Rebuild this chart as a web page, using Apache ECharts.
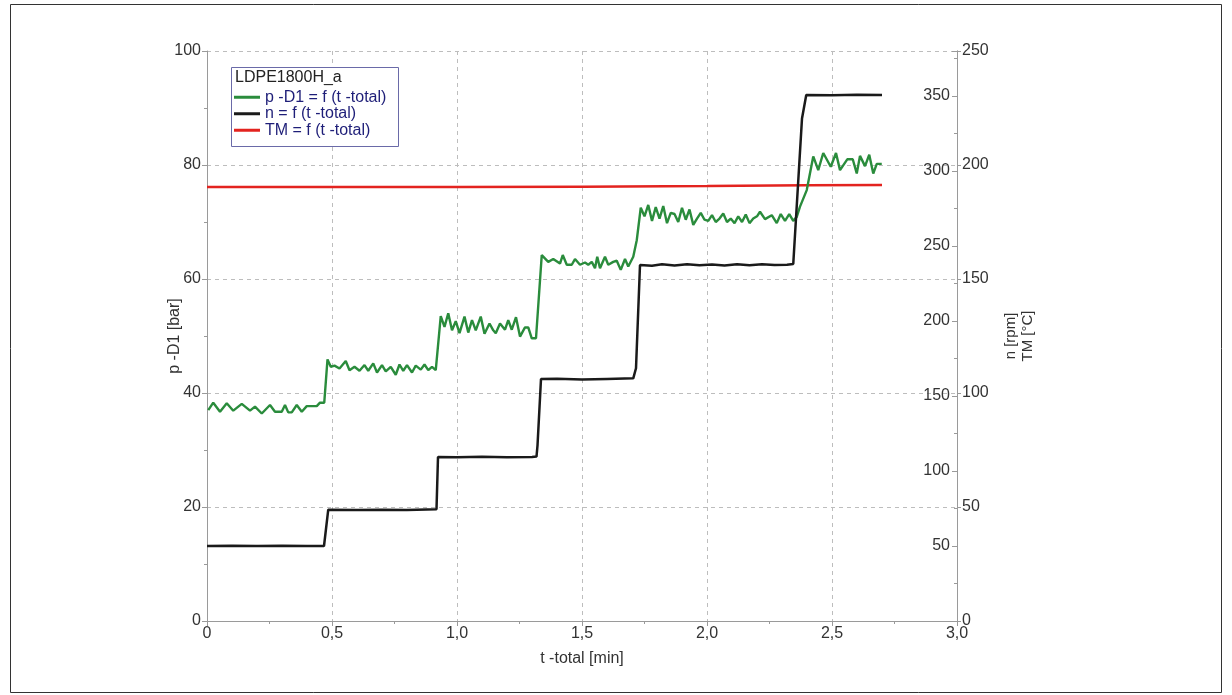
<!DOCTYPE html>
<html>
<head>
<meta charset="utf-8">
<script src="https://cdn.jsdelivr.net/npm/echarts@6/dist/echarts.min.js"></script>
<style>
html,body{margin:0;padding:0;background:#fff;}
#chart{width:1232px;height:695px;}
</style>
</head>
<body>
<div id="chart"></div>
<script>
// ---- data ----
const legendTitle = 'LDPE1800H_a';
const seriesNames = ['p -D1 = f (t -total)', 'n = f (t -total)', 'TM = f (t -total)'];
const xTicks = ['0', '0,5', '1,0', '1,5', '2,0', '2,5', '3,0'];

const pTime = [0.005,0.025,0.052,0.079,0.105,0.139,0.172,0.192,0.219,0.252,0.272,0.299,0.312,0.325,0.339,0.359,0.379,0.399,0.439,0.452,0.469,
  0.482,0.495,0.51,0.53,0.555,0.57,0.59,0.61,0.63,0.645,0.665,0.68,0.7,0.715,0.735,0.755,0.77,0.785,0.8,0.82,0.835,0.855,0.87,0.885,0.9,0.915,
  0.935,0.95,0.965,0.98,0.995,1.01,1.03,1.045,1.06,1.075,1.095,1.11,1.13,1.145,1.155,1.172,1.192,1.205,1.219,1.236,1.252,1.272,1.285,1.299,1.316,
  1.339,1.365,1.385,1.412,1.423,1.439,1.459,1.472,1.492,1.512,1.525,1.539,1.552,1.561,1.572,1.592,1.605,1.625,1.639,1.655,1.672,1.685,1.705,
  1.719,1.735,1.75,1.765,1.78,1.795,1.81,1.825,1.84,1.855,1.87,1.885,1.9,1.915,1.93,1.945,1.96,1.975,1.99,2.005,2.02,2.035,2.05,2.065,2.08,2.095,
  2.11,2.125,2.14,2.155,2.17,2.185,2.2,2.212,2.232,2.259,2.279,2.295,2.312,2.329,2.345,2.359,2.372,2.399,2.425,2.445,2.465,2.495,2.516,2.532,
  2.561,2.583,2.599,2.612,2.632,2.649,2.665,2.679,2.699];
const pValue = [37.0,38.3,36.7,38.2,36.9,38.1,36.9,37.6,36.4,37.9,36.7,36.7,37.9,36.6,36.6,37.9,36.7,37.7,37.7,38.3,38.3,
  45.9,44.6,44.8,44.3,45.6,44.0,44.6,43.9,44.9,43.9,45.2,43.6,44.9,43.8,44.6,43.2,45.0,43.9,44.9,43.6,44.8,44.1,45.0,44.0,44.6,44.0,
  53.5,51.6,54.0,51.0,52.6,50.5,53.4,50.6,52.8,51.0,53.4,50.4,52.2,51.0,50.5,52.2,51.1,52.8,51.1,53.3,49.9,51.5,51.5,49.6,49.6,
  64.2,63.0,63.5,62.7,64.2,62.5,62.5,63.5,62.5,62.9,62.5,63.0,61.9,63.9,61.9,63.9,62.5,63.0,63.2,61.6,63.5,62.2,63.9,
  66.8,72.5,71.0,73.0,70.2,72.6,70.6,72.8,69.8,71.6,71.4,70.0,72.5,70.4,72.2,69.5,70.6,71.6,70.4,70.2,71.2,70.0,70.6,71.5,70.0,70.6,
  69.8,71.0,70.0,71.3,69.8,70.6,71.0,71.8,70.5,71.2,69.8,71.4,70.2,71.4,70.2,70.9,72.7,75.6,81.5,79.1,82.1,79.7,82.1,79.1,
  81.0,81.0,78.5,81.6,79.8,81.8,78.5,80.2,80.2];

const nTime = [0.0,0.1,0.2,0.3,0.4,0.468,0.474,0.485,0.6,0.7,0.8,0.918,0.924,0.932,1.0,1.1,1.2,1.3,1.318,1.322,1.336,1.4,1.5,1.6,1.705,1.716,1.732,
  1.78,1.82,1.87,1.92,1.97,2.02,2.07,2.12,2.17,2.22,2.27,2.32,2.345,2.38,2.397,2.5,2.6,2.7];
const nValue = [50.0,50.1,50.0,50.1,50.0,50.0,51.0,74.2,74.0,74.1,74.0,74.5,109.3,109.4,109.2,109.5,109.2,109.3,109.6,117.0,161.3,161.5,161.0,161.4,161.8,168.5,237.3,
  236.8,237.8,237.0,237.9,237.2,237.6,237.0,237.8,237.2,237.9,237.3,237.5,238.0,335.0,350.7,350.5,350.8,350.7];

const tmTime = [0.0, 0.5, 1.0, 1.5, 2.0, 2.4, 2.7];
const tmValue = [190.3, 190.3, 190.3, 190.5, 190.8, 191.1, 191.2];

// ---- chart ----
const toPairs = (t, v) => t.map((x, i) => [x, v[i]]);
const chart = echarts.init(document.getElementById('chart'));
const FONT = 'Liberation Sans, Arial, sans-serif';
const AX = '#9a9a9a';
const TXT = '#333';

chart.setOption({
  animation: false,
  backgroundColor: '#fff',
  textStyle: { fontFamily: FONT },
  grid: { left: 207, right: 275, top: 51, bottom: 74, containLabel: false },
  legend: {
    left: 234, top: 89, orient: 'vertical', padding: 0, itemGap: 0, z: 20,
    icon: 'rect', itemWidth: 26, itemHeight: 3,
    textStyle: { color: '#1e1e78', fontSize: 16, lineHeight: 16.5, fontFamily: FONT },
    data: seriesNames
  },
  graphic: [
    { type: 'rect', shape: { x: 10.5, y: 4.5, width: 1211, height: 688 }, style: { fill: 'none', stroke: '#333', lineWidth: 1 }, silent: true },
    { type: 'rect', shape: { x: 231.5, y: 67.5, width: 167, height: 79 }, style: { fill: '#fff', stroke: '#6a6aa8', lineWidth: 1 }, z: 5 },
    { type: 'text', left: 235, top: 70, style: { text: legendTitle, fill: '#222', font: '16px ' + FONT }, z: 6 }
  ],
  xAxis: {
    type: 'value', min: 0, max: 3, interval: 0.5,
    name: 't -total [min]', nameLocation: 'middle', nameGap: 30, nameMoveOverlap: false,
    nameTextStyle: { color: TXT, fontSize: 16 },
    axisLine: { show: true, lineStyle: { color: AX } },
    axisTick: { show: true, length: 5, lineStyle: { color: AX } },
    minorTick: { show: true, splitNumber: 2, length: 3, lineStyle: { color: AX } },
    axisLabel: { color: TXT, fontSize: 16, margin: 5, formatter: (v) => xTicks[Math.round(v / 0.5)] },
    splitLine: { show: true, lineStyle: { color: '#bdbdbd', type: [4, 4] } }
  },
  yAxis: [
    {
      type: 'value', position: 'left', min: 0, max: 100, interval: 20,
      name: 'p -D1 [bar]', nameLocation: 'middle', nameGap: 24, nameMoveOverlap: false,
      nameTextStyle: { color: TXT, fontSize: 16 },
      axisLine: { show: true, lineStyle: { color: AX } },
      axisTick: { show: true, length: 5, lineStyle: { color: AX } },
      minorTick: { show: true, splitNumber: 2, length: 3, lineStyle: { color: AX } },
      axisLabel: { color: TXT, fontSize: 16, margin: 6 },
      splitLine: { show: true, lineStyle: { color: '#bdbdbd', type: [4, 4] } }
    },
    {
      type: 'value', position: 'right', offset: 0, min: 0, max: 380, interval: 50,
      axisLine: { show: true, lineStyle: { color: AX } },
      axisTick: { show: true, inside: true, length: 5, lineStyle: { color: AX } },
      minorTick: { show: true, splitNumber: 2, length: 3, lineStyle: { color: AX } },
      axisLabel: { inside: true, color: TXT, fontSize: 16, margin: 7, showMinLabel: false, showMaxLabel: false },
      splitLine: { show: false }
    },
    {
      type: 'value', position: 'right', offset: 0, min: 0, max: 250, interval: 50,
      name: '{a|n [rpm]}\n{a|TM [°C]}', nameLocation: 'middle', nameGap: 45, nameRotate: 90, nameMoveOverlap: false,
      nameTextStyle: { color: TXT, fontSize: 15, rich: { a: { color: TXT, fontSize: 15, lineHeight: 17, fontFamily: FONT } } },
      axisLine: { show: true, lineStyle: { color: AX } },
      axisTick: { show: true, length: 4, lineStyle: { color: AX } },
      axisLabel: { color: TXT, fontSize: 16, margin: 5 },
      splitLine: { show: false }
    }
  ],
  series: [
    { name: seriesNames[0], type: 'line', yAxisIndex: 0, data: toPairs(pTime, pValue), showSymbol: false, symbol: 'none',
      lineStyle: { color: '#2a8c3c', width: 2.4 }, itemStyle: { color: '#2a8c3c' }, z: 3 },
    { name: seriesNames[1], type: 'line', yAxisIndex: 1, data: toPairs(nTime, nValue), showSymbol: false, symbol: 'none',
      lineStyle: { color: '#1a1a1a', width: 2.5 }, itemStyle: { color: '#1a1a1a' }, z: 4 },
    { name: seriesNames[2], type: 'line', yAxisIndex: 2, data: toPairs(tmTime, tmValue), showSymbol: false, symbol: 'none',
      lineStyle: { color: '#e3231f', width: 2.5 }, itemStyle: { color: '#e3231f' }, z: 2 }
  ]
});
</script>
</body>
</html>
